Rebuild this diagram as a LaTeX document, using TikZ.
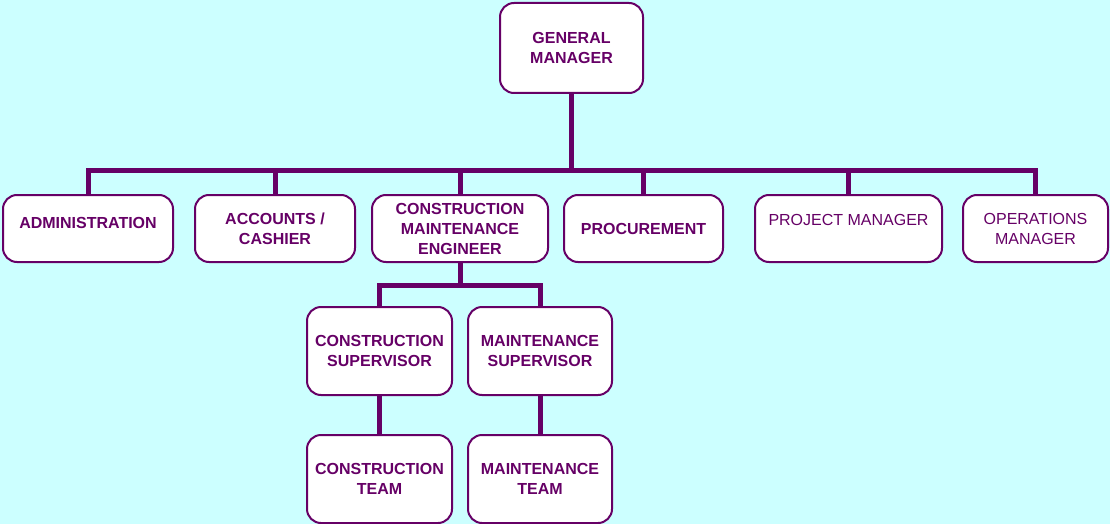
\documentclass[tikz,border=0pt]{standalone}
\usepackage{fontspec}
\setmainfont{Liberation Sans}
\definecolor{plum}{HTML}{660066}
\definecolor{sky}{HTML}{CCFFFF}

\begin{document}
\begin{tikzpicture}[x=1pt,y=-1pt,
    link/.style={draw=plum, line width=5pt},
    thin text/.style={font=\fontsize{16}{20}\selectfont}]

      \fill[sky] (0,0) rectangle (1110,524);
      \useasboundingbox (0,0) rectangle (1110,524);

      \coordinate (bus)  at (0,170);
      \coordinate (bus2) at (0,285);

      \begin{scope}[every node/.style={draw=plum, line width=2pt, fill=white,
          rounded corners=14pt, text=plum, align=center, minimum height=67pt,
          font=\fontsize{16}{20}\selectfont\bfseries}]
        \node[minimum width=143pt, minimum height=90pt] (gm) at (571.5,48) {GENERAL\\MANAGER};
        \node[minimum width=170pt, text depth=12pt] (adm) at (88,228.5) {ADMINISTRATION};
        \node[minimum width=160pt] (acc) at (275,228.5) {ACCOUNTS /\\CASHIER};
        \node[minimum width=176pt] (cme) at (460,228.5) {CONSTRUCTION\\MAINTENANCE\\ENGINEER};
        \node[minimum width=159pt] (proc) at (643.5,228.5) {PROCUREMENT};
        \node[minimum width=187pt, thin text, text depth=18pt] (pm) at (848.5,228.5) {PROJECT MANAGER};
        \node[minimum width=145pt, thin text] (ops) at (1035.5,228.5) {OPERATIONS\\MANAGER};
        \node[minimum width=145pt, minimum height=88pt] (cs) at (379.5,351) {CONSTRUCTION\\SUPERVISOR};
        \node[minimum width=144pt, minimum height=88pt] (ms) at (540,351) {MAINTENANCE\\SUPERVISOR};
        \node[minimum width=145pt, minimum height=88pt] (ct) at (379.5,479) {CONSTRUCTION\\TEAM};
        \node[minimum width=144pt, minimum height=88pt] (mt) at (540,479) {MAINTENANCE\\TEAM};
      \end{scope}

      \begin{scope}[every path/.style={link}]
        \foreach \n in {adm,acc,cme,proc,pm,ops}
          \draw (gm) -- (gm |- bus) -| (\n);
        \foreach \n in {cs,ms}
          \draw (cme) -- (cme |- bus2) -| (\n);
        \draw (cs) -- (ct);
        \draw (ms) -- (mt);
      \end{scope}

    \end{tikzpicture}
\end{document}
